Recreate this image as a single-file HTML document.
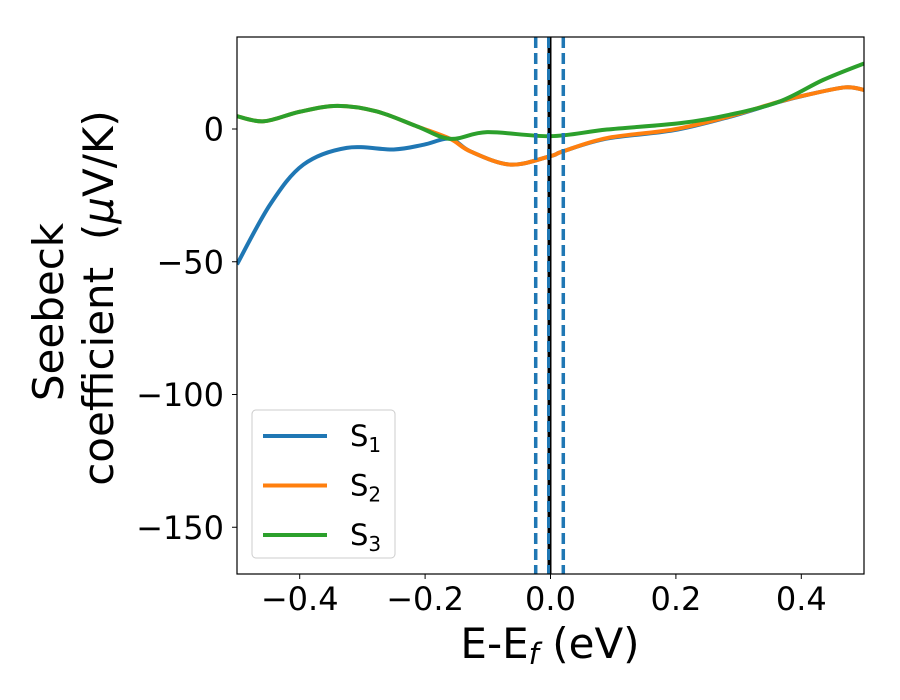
<!DOCTYPE html>
<html><head><meta charset="utf-8"><style>
body{margin:0;background:#fff}
svg{display:block;font-family:"DejaVu Sans","Liberation Sans",sans-serif}
</style></head><body>
<svg id="chart" width="900" height="700">
<g id="plot"></g>
<text x="550" y="658" font-size="42" text-anchor="middle">E-E<tspan font-size="29" dy="6" font-style="italic">f</tspan><tspan dy="-6"> (eV)</tspan></text>
<text transform="translate(63,312) rotate(-90)" font-size="42" text-anchor="middle">Seebeck</text>
<text transform="translate(113,298) rotate(-90)" font-size="42" text-anchor="middle">coefficient&#160; (<tspan font-style="italic">μ</tspan>V/K)</text>
</svg>
<script>
const s1X=[-0.5,-0.447,-0.394,-0.325,-0.25,-0.202,-0.16,-0.128,-0.064,0,0.02,0.09,0.196,0.286,0.366,0.41,0.47,0.5];
const s1Y=[-51,-28.4,-13.4,-7.1,-7.7,-5.9,-3.7,-8.4,-13.4,-10.2,-8.4,-3.6,-0.5,4.6,10.3,12.9,15.7,14.7];
const s2X=[-0.5,-0.457,-0.4,-0.34,-0.277,-0.213,-0.16,-0.128,-0.064,0,0.02,0.09,0.196,0.286,0.366,0.41,0.47,0.5];
const s2Y=[4.8,2.9,6.5,8.7,6.6,1,-3.7,-8.4,-13.4,-10.2,-8.4,-3.4,-0.2,4.8,10.4,12.9,15.7,14.7];
const s3X=[-0.5,-0.457,-0.4,-0.34,-0.277,-0.213,-0.16,-0.101,0,0.09,0.207,0.286,0.366,0.435,0.5];
const s3Y=[4.8,2.9,6.5,8.7,6.6,1,-3.7,-1.2,-2.7,-0.2,2.2,5.4,10.4,18.5,24.7];
const xTicks=[-0.4,-0.2,0.0,0.2,0.4];
const xTickLabels=["\u22120.4","\u22120.2","0.0","0.2","0.4"];
const yTicks=[0,-50,-100,-150];
const yTickLabels=["0","\u221250","\u2212100","\u2212150"];
const vLinesDashed=[-0.022,0.022];
const vLineCenter=[0];
const legendLabels=["1","2","3"];

const NS="http://www.w3.org/2000/svg";
const L=237,R=864,T=37,B=574;
const xS=v=>L+(v+0.5)*(R-L);
const yS=v=>129-v*2.655;
const g=document.getElementById('plot');
function mk(t,a,p){const e=document.createElementNS(NS,t);for(const k in a)e.setAttribute(k,a[k]);(p||g).appendChild(e);return e;}
function path(xs,ys){
  const p=xs.map((x,i)=>[xS(x),yS(ys[i])]);
  let d=`M${p[0][0]},${p[0][1]}`;
  for(let i=0;i<p.length-1;i++){
    const p0=p[i-1]||p[i],p1=p[i],p2=p[i+1],p3=p[i+2]||p2;
    const c1=[p1[0]+(p2[0]-p0[0])/6,p1[1]+(p2[1]-p0[1])/6];
    const c2=[p2[0]-(p3[0]-p1[0])/6,p2[1]-(p3[1]-p1[1])/6];
    d+=`C${c1[0]},${c1[1]} ${c2[0]},${c2[1]} ${p2[0]},${p2[1]}`;
  }
  return d;
}
const cp=mk('clipPath',{id:'clip'});
mk('rect',{x:L,y:T,width:R-L,height:B-T},cp);
const cg=mk('g',{'clip-path':'url(#clip)'});
const colors=['#1f77b4','#ff7f0e','#2ca02c'];
[[s1X,s1Y],[s2X,s2Y],[s3X,s3Y]].forEach((s,i)=>{
  const e=mk('path',{d:path(s[0],s[1]),fill:'none',stroke:colors[i],'stroke-width':4},cg);
  
  
});
vLineCenter.forEach(v=>{
  const e=mk('line',{x1:xS(v)-1,x2:xS(v)-1,y1:T,y2:B,stroke:'#000','stroke-width':4},cg);
  
  
  const e2=mk('line',{x1:xS(v)-2,x2:xS(v)-2,y1:T,y2:B,stroke:'#1f77b4','stroke-width':3,'stroke-dasharray':'11,5'},cg);
  
  
});
vLinesDashed.forEach(v=>{
  const e=mk('line',{x1:xS(v)-1,x2:xS(v)-1,y1:T,y2:B,stroke:'#1f77b4','stroke-width':3.5,'stroke-dasharray':'11,5'},cg);
  
  
});
const fr=mk('rect',{x:L,y:T,width:R-L,height:B-T,fill:'none',stroke:'#000','stroke-width':1.2});


xTicks.forEach((v,i)=>{
  mk('line',{x1:xS(v),x2:xS(v),y1:B,y2:B+5,stroke:'#000','stroke-width':1});
  const t=mk('text',{x:xS(v),y:610,'font-size':32,'text-anchor':'middle'});t.textContent=xTickLabels[i];
  
  
});
yTicks.forEach((v,i)=>{
  mk('line',{x1:L-5,x2:L,y1:yS(v),y2:yS(v),stroke:'#000','stroke-width':1});
  const t=mk('text',{x:L-13,y:yS(v)+11.5,'font-size':32,'text-anchor':'end'});t.textContent=yTickLabels[i];
  
  
});
const lg=mk('g',{});


mk('rect',{x:252,y:410,width:143,height:148,rx:4,fill:'#fff','fill-opacity':0.8,stroke:'#ccc','stroke-width':1},lg);
legendLabels.forEach((s,i)=>{
  const y=436+i*49.5;
  mk('line',{x1:263,x2:327,y1:y,y2:y,stroke:colors[i],'stroke-width':4},lg);
  const t=mk('text',{x:350,y:y+10,'font-size':29},lg);
  t.innerHTML='S<tspan font-size="20" dy="6">'+s+'</tspan>';
  
  
});
</script>
</body></html>
